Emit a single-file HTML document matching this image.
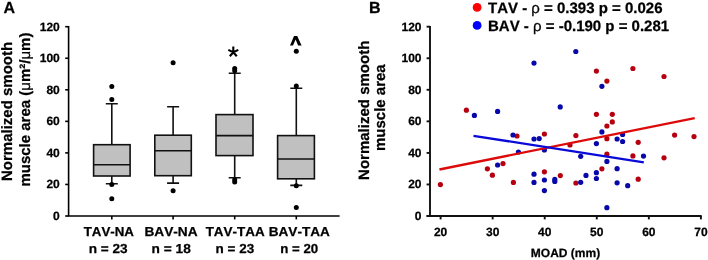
<!DOCTYPE html><html><head><meta charset="utf-8"><style>html,body{margin:0;padding:0;background:#fff;overflow:hidden;width:708px;height:260px;}svg{display:block;will-change:transform;} text{font-family:"Liberation Sans",sans-serif;font-weight:bold;fill:#000;font-kerning:none;stroke:#000;stroke-width:0.25px;text-rendering:geometricPrecision;}</style></head><body>
<svg width="708" height="260" viewBox="0 0 708 260">
<rect width="708" height="260" fill="#fff"/>
<text x="3.4" y="13.4" font-size="16">A</text>
<text x="369.1" y="13.4" font-size="16">B</text>
<g stroke="#000" stroke-width="1.6" fill="none">
<path d="M68.6 25.9 V216.8 M67.8 216.0 H339.6"/>
<path d="M65.19999999999999 216.00 H68.6"/>
<path d="M65.19999999999999 184.45 H68.6"/>
<path d="M65.19999999999999 152.90 H68.6"/>
<path d="M65.19999999999999 121.35 H68.6"/>
<path d="M65.19999999999999 89.80 H68.6"/>
<path d="M65.19999999999999 58.25 H68.6"/>
<path d="M65.19999999999999 26.70 H68.6"/>
<path d="M111.8 216.0 V219.4"/>
<path d="M173.1 216.0 V219.4"/>
<path d="M234.7 216.0 V219.4"/>
<path d="M296.3 216.0 V219.4"/>
</g>
<text x="59.8" y="220.00" font-size="12" text-anchor="end">0</text>
<text x="59.8" y="188.45" font-size="12" text-anchor="end">20</text>
<text x="59.8" y="156.90" font-size="12" text-anchor="end">40</text>
<text x="59.8" y="125.35" font-size="12" text-anchor="end">60</text>
<text x="59.8" y="93.80" font-size="12" text-anchor="end">80</text>
<text x="59.8" y="62.25" font-size="12" text-anchor="end">100</text>
<text x="59.8" y="30.70" font-size="12" text-anchor="end">120</text>
<g stroke="#111" stroke-width="1.6" fill="none">
<path d="M111.8 103.8 V144.7 M111.8 176.0 V183.7 M105.8 103.8 H117.8 M105.8 183.7 H117.8"/>
<rect x="93.6" y="144.7" width="36.5" height="31.30000000000001" fill="#c0c0c0"/>
<path d="M93.6 164.7 H130.1"/>
</g>
<circle cx="111.8" cy="86.4" r="2.5" fill="#000"/>
<circle cx="111.8" cy="99.5" r="2.5" fill="#000"/>
<circle cx="111.8" cy="184.6" r="2.5" fill="#000"/>
<circle cx="111.8" cy="198.7" r="2.5" fill="#000"/>
<g stroke="#111" stroke-width="1.6" fill="none">
<path d="M173.1 106.7 V135.2 M173.1 175.7 V183.1 M167.1 106.7 H179.1 M167.1 183.1 H179.1"/>
<rect x="154.8" y="135.2" width="36.5" height="40.5" fill="#c0c0c0"/>
<path d="M154.8 150.8 H191.3"/>
</g>
<circle cx="173.1" cy="62.8" r="2.5" fill="#000"/>
<circle cx="173.1" cy="190.7" r="2.5" fill="#000"/>
<g stroke="#111" stroke-width="1.6" fill="none">
<path d="M234.7 73.3 V114.6 M234.7 155.6 V177.7 M228.7 73.3 H240.7 M228.7 177.7 H240.7"/>
<rect x="216.0" y="114.6" width="37.0" height="41.0" fill="#c0c0c0"/>
<path d="M216.0 135.6 H253.0"/>
</g>
<circle cx="234.7" cy="68.5" r="2.5" fill="#000"/>
<circle cx="234.7" cy="70.8" r="2.5" fill="#000"/>
<circle cx="234.7" cy="179.8" r="2.5" fill="#000"/>
<circle cx="234.7" cy="182.1" r="2.5" fill="#000"/>
<g stroke="#111" stroke-width="1.6" fill="none">
<path d="M296.3 88.2 V135.6 M296.3 178.8 V185.4 M290.3 88.2 H302.3 M290.3 185.4 H302.3"/>
<rect x="277.6" y="135.6" width="36.799999999999955" height="43.20000000000002" fill="#c0c0c0"/>
<path d="M277.6 159.0 H314.4"/>
</g>
<circle cx="296.3" cy="51.3" r="2.5" fill="#000"/>
<circle cx="296.3" cy="86.0" r="2.5" fill="#000"/>
<circle cx="296.3" cy="185.7" r="2.5" fill="#000"/>
<circle cx="296.3" cy="207.6" r="2.5" fill="#000"/>
<path d="M233.3 52.2 V46.6 M233.3 52.2 L228.3 49.9 M233.3 52.2 L238.3 49.9 M233.3 52.2 L229.8 56.3 M233.3 52.2 L236.8 56.3" stroke="#000" stroke-width="2.1" fill="none"/>
<path d="M290 45.4 L294 36.1 L297.2 36.1 L301.6 45.4 L298.1 45.4 L295.6 39.6 L293 45.4 Z" fill="#000"/>
<text transform="translate(83.64,236.3) scale(1.0247,1)" font-size="13">TAV-NA</text>
<text transform="translate(144.41,236.3) scale(1.0525,1)" font-size="13">BAV-NA</text>
<text transform="translate(205.64,236.3) scale(1.0354,1)" font-size="13">TAV-TAA</text>
<text transform="translate(268.72,236.3) scale(1.0463,1)" font-size="13">BAV-TAA</text>
<text transform="translate(88.72,252.7) scale(1.0444,1)" font-size="13">n = 23</text>
<text transform="translate(151.61,252.7) scale(1.0528,1)" font-size="13">n = 18</text>
<text transform="translate(215.62,252.7) scale(1.0361,1)" font-size="13">n = 23</text>
<text transform="translate(280.24,252.7) scale(1.0194,1)" font-size="13">n = 20</text>
<text transform="translate(11.7,111.4) rotate(-90)" font-size="15" text-anchor="middle">Normalized smooth</text>
<text transform="translate(30.0,109.6) rotate(-90)" font-size="15" text-anchor="middle">muscle area (<tspan font-weight="normal">μ</tspan>m²/<tspan font-weight="normal">μ</tspan>m)</text>
<g stroke="#111" stroke-width="1.9" fill="none">
<path d="M430.0 25.9 V216.8 M426.6 216.0 H701.7"/>
<path d="M426.6 216.00 H430.0"/>
<path d="M426.6 184.45 H430.0"/>
<path d="M426.6 152.90 H430.0"/>
<path d="M426.6 121.35 H430.0"/>
<path d="M426.6 89.80 H430.0"/>
<path d="M426.6 58.25 H430.0"/>
<path d="M426.6 26.70 H430.0"/>
<path d="M440.60 216.0 V219.4"/>
<path d="M492.66 216.0 V219.4"/>
<path d="M544.72 216.0 V219.4"/>
<path d="M596.78 216.0 V219.4"/>
<path d="M648.84 216.0 V219.4"/>
<path d="M700.90 216.0 V219.4"/>
</g>
<text x="421.5" y="220.00" font-size="12" text-anchor="end">0</text>
<text x="421.5" y="188.45" font-size="12" text-anchor="end">20</text>
<text x="421.5" y="156.90" font-size="12" text-anchor="end">40</text>
<text x="421.5" y="125.35" font-size="12" text-anchor="end">60</text>
<text x="421.5" y="93.80" font-size="12" text-anchor="end">80</text>
<text x="421.5" y="62.25" font-size="12" text-anchor="end">100</text>
<text x="421.5" y="30.70" font-size="12" text-anchor="end">120</text>
<text x="440.60" y="236.3" font-size="12" text-anchor="middle">20</text>
<text x="492.66" y="236.3" font-size="12" text-anchor="middle">30</text>
<text x="544.72" y="236.3" font-size="12" text-anchor="middle">40</text>
<text x="596.78" y="236.3" font-size="12" text-anchor="middle">50</text>
<text x="648.84" y="236.3" font-size="12" text-anchor="middle">60</text>
<text x="700.90" y="236.3" font-size="12" text-anchor="middle">70</text>
<text x="565.5" y="256.8" font-size="12" text-anchor="middle">MOAD (mm)</text>
<text transform="translate(368.8,110.3) rotate(-90)" font-size="15" text-anchor="middle">Normalized smooth</text>
<text transform="translate(385.3,107.7) rotate(-90)" font-size="15" text-anchor="middle">muscle area</text>
<circle cx="466.4" cy="110.2" r="2.6" fill="#b60010"/>
<circle cx="517" cy="136" r="2.6" fill="#b60010"/>
<circle cx="544.4" cy="134" r="2.6" fill="#b60010"/>
<circle cx="570" cy="145" r="2.6" fill="#b60010"/>
<circle cx="503" cy="163.6" r="2.6" fill="#b60010"/>
<circle cx="487.4" cy="168.8" r="2.6" fill="#b60010"/>
<circle cx="492.4" cy="175.2" r="2.6" fill="#b60010"/>
<circle cx="544.4" cy="171.8" r="2.6" fill="#b60010"/>
<circle cx="560.3" cy="175.6" r="2.6" fill="#b60010"/>
<circle cx="440.4" cy="184.6" r="2.6" fill="#b60010"/>
<circle cx="513.4" cy="182.4" r="2.6" fill="#b60010"/>
<circle cx="596.4" cy="71.1" r="2.6" fill="#b60010"/>
<circle cx="632.9" cy="68.5" r="2.6" fill="#b60010"/>
<circle cx="664" cy="76.5" r="2.6" fill="#b60010"/>
<circle cx="606.9" cy="81.1" r="2.6" fill="#b60010"/>
<circle cx="596.4" cy="114.3" r="2.6" fill="#b60010"/>
<circle cx="612.3" cy="114.3" r="2.6" fill="#b60010"/>
<circle cx="612.3" cy="121.9" r="2.6" fill="#b60010"/>
<circle cx="606.9" cy="126" r="2.6" fill="#b60010"/>
<circle cx="575.9" cy="135.6" r="2.6" fill="#b60010"/>
<circle cx="674.6" cy="135.1" r="2.6" fill="#b60010"/>
<circle cx="694" cy="136.6" r="2.6" fill="#b60010"/>
<circle cx="606.9" cy="138.7" r="2.6" fill="#b60010"/>
<circle cx="638.2" cy="142.3" r="2.6" fill="#b60010"/>
<circle cx="606.9" cy="154.2" r="2.6" fill="#b60010"/>
<circle cx="632.9" cy="155.9" r="2.6" fill="#b60010"/>
<circle cx="664" cy="157.8" r="2.6" fill="#b60010"/>
<circle cx="601.9" cy="168.8" r="2.6" fill="#b60010"/>
<circle cx="575.9" cy="183" r="2.6" fill="#b60010"/>
<circle cx="638.2" cy="179.2" r="2.6" fill="#b60010"/>
<circle cx="534" cy="63.1" r="2.6" fill="#0808aa"/>
<circle cx="575.8" cy="51.5" r="2.6" fill="#0808aa"/>
<circle cx="601.9" cy="86.3" r="2.6" fill="#0808aa"/>
<circle cx="560.2" cy="106.9" r="2.6" fill="#0808aa"/>
<circle cx="474.4" cy="115.4" r="2.6" fill="#0808aa"/>
<circle cx="497.6" cy="111.4" r="2.6" fill="#0808aa"/>
<circle cx="513" cy="135" r="2.6" fill="#0808aa"/>
<circle cx="534" cy="139" r="2.6" fill="#0808aa"/>
<circle cx="539.2" cy="138.6" r="2.6" fill="#0808aa"/>
<circle cx="544.4" cy="150" r="2.6" fill="#0808aa"/>
<circle cx="518.4" cy="152" r="2.6" fill="#0808aa"/>
<circle cx="497.6" cy="165" r="2.6" fill="#0808aa"/>
<circle cx="534" cy="174.2" r="2.6" fill="#0808aa"/>
<circle cx="534" cy="182.4" r="2.6" fill="#0808aa"/>
<circle cx="544.4" cy="180" r="2.6" fill="#0808aa"/>
<circle cx="544.4" cy="190.6" r="2.6" fill="#0808aa"/>
<circle cx="554.8" cy="179.4" r="2.6" fill="#0808aa"/>
<circle cx="554.8" cy="181.4" r="2.6" fill="#0808aa"/>
<circle cx="601.9" cy="131.9" r="2.6" fill="#0808aa"/>
<circle cx="596.4" cy="143.6" r="2.6" fill="#0808aa"/>
<circle cx="617.1" cy="139" r="2.6" fill="#0808aa"/>
<circle cx="622.6" cy="134.5" r="2.6" fill="#0808aa"/>
<circle cx="622.6" cy="141.5" r="2.6" fill="#0808aa"/>
<circle cx="580.7" cy="156.3" r="2.6" fill="#0808aa"/>
<circle cx="606.9" cy="161.4" r="2.6" fill="#0808aa"/>
<circle cx="643.5" cy="156.1" r="2.6" fill="#0808aa"/>
<circle cx="617.1" cy="168.7" r="2.6" fill="#0808aa"/>
<circle cx="596.4" cy="172.7" r="2.6" fill="#0808aa"/>
<circle cx="586" cy="175.4" r="2.6" fill="#0808aa"/>
<circle cx="596.4" cy="178.5" r="2.6" fill="#0808aa"/>
<circle cx="580.7" cy="182.3" r="2.6" fill="#0808aa"/>
<circle cx="617.1" cy="182.8" r="2.6" fill="#0808aa"/>
<circle cx="627.7" cy="185.7" r="2.6" fill="#0808aa"/>
<circle cx="606.9" cy="207.7" r="2.6" fill="#0808aa"/>
<path d="M439.4 169.5 L694.7 118.1" stroke="#dc0a0a" stroke-width="2.3" stroke-linecap="butt"/>
<path d="M473.5 135.8 L643.8 162.3" stroke="#0a0ad8" stroke-width="2.3" stroke-linecap="butt"/>
<circle cx="477.1" cy="7.4" r="4.4" fill="#ff0000"/>
<circle cx="477.1" cy="25.4" r="4.4" fill="#0000ff"/>
<text x="488" y="12.6" font-size="15">TAV - <tspan font-weight="normal">ρ</tspan> = 0.393 p = 0.026</text>
<text x="488" y="30.7" font-size="15">BAV - <tspan font-weight="normal">ρ</tspan> = -0.190 p = 0.281</text>
</svg></body></html>
